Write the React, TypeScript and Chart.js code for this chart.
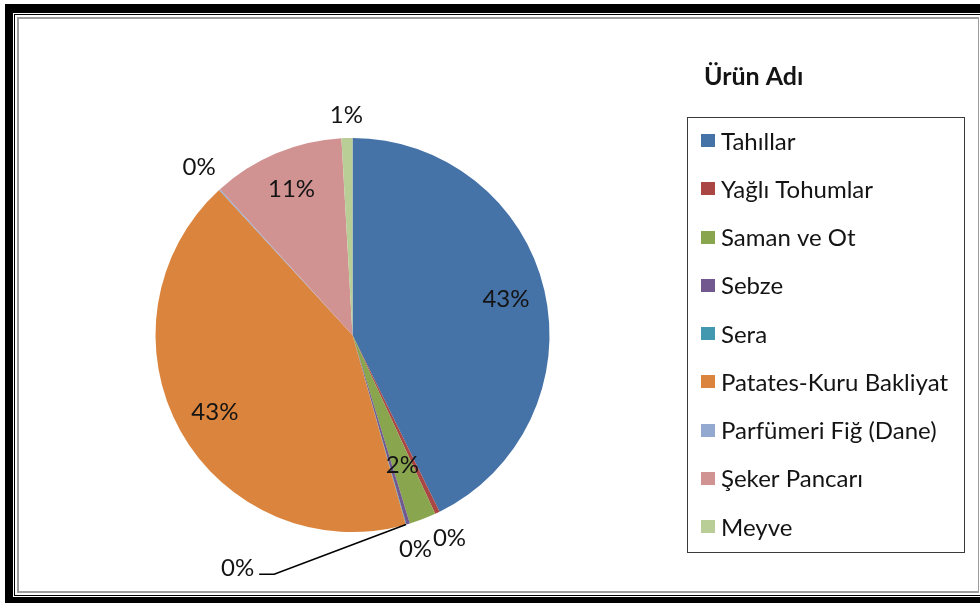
import React, { useEffect, useRef } from "react";
import { Chart, registerables } from "chart.js";

Chart.register(...registerables);

// ---- data ----
const categories = [
  "Tahıllar",
  "Yağlı Tohumlar",
  "Saman ve Ot",
  "Sebze",
  "Sera",
  "Patates-Kuru Bakliyat",
  "Parfümeri Fiğ (Dane)",
  "Şeker Pancarı",
  "Meyve",
];
const shares = [42.9, 0.4, 2.2, 0.3, 0.05, 42.7, 0.1, 10.9, 0.9];
const sliceColors = [
  "#4572A7",
  "#AA4643",
  "#89A54E",
  "#71588F",
  "#4198AF",
  "#DB843D",
  "#93A9CF",
  "#D19392",
  "#B9CD96",
];
const legendTitle = "Ürün Adı";

// ---- style ----
const W = 980;
const H = 603;
const FONT = "Lato, 'Open Sans', sans-serif";
const LABEL_FS = 24;
const LEGEND_FS = 24;
const TITLE_FS = 25;
const TEXT_COLOR = "#141414";

const framePlugin = {
  id: "frame",
  beforeDraw(chart: any) {
    const ctx = chart.ctx;
    ctx.save();
    ctx.fillStyle = "#ffffff";
    ctx.fillRect(0, 0, W, H);
    ctx.fillStyle = "#000000";
    ctx.fillRect(5, 4, W - 5, H - 4);
    ctx.fillStyle = "#ffffff";
    ctx.fillRect(13, 13, W - 13, 597 - 13);
    ctx.fillStyle = "#000000";
    ctx.fillRect(14, 14, W - 14, 596 - 14);
    ctx.fillStyle = "#ffffff";
    ctx.fillRect(15, 15, W - 15, 595 - 15);
    ctx.fillStyle = "#9c9c9c";
    ctx.fillRect(17, 17, 979 - 17, 593 - 17);
    ctx.fillStyle = "#ffffff";
    ctx.fillRect(19, 19, 978 - 19, 591 - 19);
    ctx.restore();
  },
};

type Box = { x0: number; y0: number; x1: number; y1: number };

const labelPlugin = {
  id: "pctLabels",
  afterDatasetsDraw(chart: any) {
    const ctx = chart.ctx;
    const meta = chart.getDatasetMeta(0);
    const values: number[] = chart.data.datasets[0].data;
    const total = values.reduce((a: number, b: number) => a + b, 0);
    ctx.save();
    ctx.font = `${LABEL_FS}px ${FONT}`;
    ctx.fillStyle = TEXT_COLOR;
    ctx.textAlign = "center";
    ctx.textBaseline = "middle";
    const boxes: Box[] = [];
    const tol = 4;
    meta.data.forEach((arc: any, i: number) => {
      const p = arc.getProps(["x", "y", "startAngle", "endAngle", "outerRadius"], true);
      const pct = (values[i] / total) * 100;
      const text = Math.round(pct) + "%";
      const mid = (p.startAngle + p.endAngle) / 2;
      const dx = Math.cos(mid);
      const dy = Math.sin(mid);
      const R = p.outerRadius;
      const w = ctx.measureText(text).width;
      const h = LABEL_FS;
      let cx: number;
      let cy: number;
      if (pct >= 5) {
        cx = p.x + dx * R * 0.8;
        cy = p.y + dy * R * 0.8;
      } else if (pct >= 1.5) {
        cx = p.x + dx * R * 0.71;
        cy = p.y + dy * R * 0.71;
      } else {
        const ext = (w / 2) * Math.abs(dx) + (h / 2) * Math.abs(dy);
        const r = R + 10 + ext;
        cx = p.x + dx * r;
        cy = p.y + dy * r;
        const box = { x0: cx - w / 2, y0: cy - h / 2, x1: cx + w / 2, y1: cy + h / 2 };
        const hit = boxes.some(
          (b) =>
            box.x0 < b.x1 - tol &&
            box.x1 > b.x0 + tol &&
            box.y0 < b.y1 - tol &&
            box.y1 > b.y0 + tol
        );
        if (hit) {
          const a2 = mid + (42 * Math.PI) / 180;
          const r2 = R + 63;
          cx = p.x + Math.cos(a2) * r2;
          cy = p.y + Math.sin(a2) * r2;
          const ex = p.x + dx * R;
          const ey = p.y + dy * R;
          const right = cx + w / 2;
          ctx.strokeStyle = "#000000";
          ctx.lineWidth = 1.6;
          ctx.beginPath();
          ctx.moveTo(ex, ey);
          ctx.lineTo(right + 20, cy + 6);
          ctx.lineTo(right + 5, cy + 6);
          ctx.stroke();
        }
      }
      boxes.push({ x0: cx - w / 2, y0: cy - h / 2, x1: cx + w / 2, y1: cy + h / 2 });
      ctx.fillText(text, cx, cy);
    });
    ctx.restore();
  },
};

const legendPlugin = {
  id: "boxLegend",
  afterDraw(chart: any) {
    const ctx = chart.ctx;
    const labels: string[] = chart.data.labels;
    const bg: string[] = chart.data.datasets[0].backgroundColor;
    ctx.save();
    // title
    ctx.fillStyle = TEXT_COLOR;
    ctx.font = `bold ${TITLE_FS}px ${FONT}`;
    ctx.textAlign = "left";
    ctx.textBaseline = "middle";
    ctx.fillText(legendTitle, 704, 77);
    // box
    ctx.strokeStyle = "#3a3a3a";
    ctx.lineWidth = 1;
    ctx.strokeRect(687.5, 117.5, 964 - 687, 552 - 117);
    ctx.font = `${LEGEND_FS}px ${FONT}`;
    labels.forEach((lab, i) => {
      const cy = 141 + i * 48.25;
      ctx.fillStyle = bg[i];
      ctx.fillRect(701, Math.round(cy - 7), 14, 13);
      ctx.fillStyle = TEXT_COLOR;
      ctx.fillText(lab, 721, cy + 1);
    });
    ctx.restore();
  },
};

export default function App() {
  const ref = useRef<HTMLCanvasElement | null>(null);
  useEffect(() => {
    if (!ref.current) return;
    const chart = new Chart(ref.current, {
      type: "pie",
      data: {
        labels: categories,
        datasets: [
          {
            data: shares,
            backgroundColor: sliceColors,
            borderWidth: 0,
          },
        ],
      },
      options: {
        responsive: false,
        animation: false,
        devicePixelRatio: 1,
        layout: {
          padding: { left: 155.5, right: W - 549.5, top: 138, bottom: H - 532 },
        },
        plugins: {
          legend: { display: false },
          tooltip: { enabled: false },
        },
      },
      plugins: [framePlugin, labelPlugin, legendPlugin],
    });
    return () => chart.destroy();
  }, []);
  return (
    <div style={{ position: "fixed", left: 0, top: 0, width: W, height: H, background: "#fff" }}>
      <canvas ref={ref} width={W} height={H} style={{ display: "block", width: W, height: H }} />
    </div>
  );
}
